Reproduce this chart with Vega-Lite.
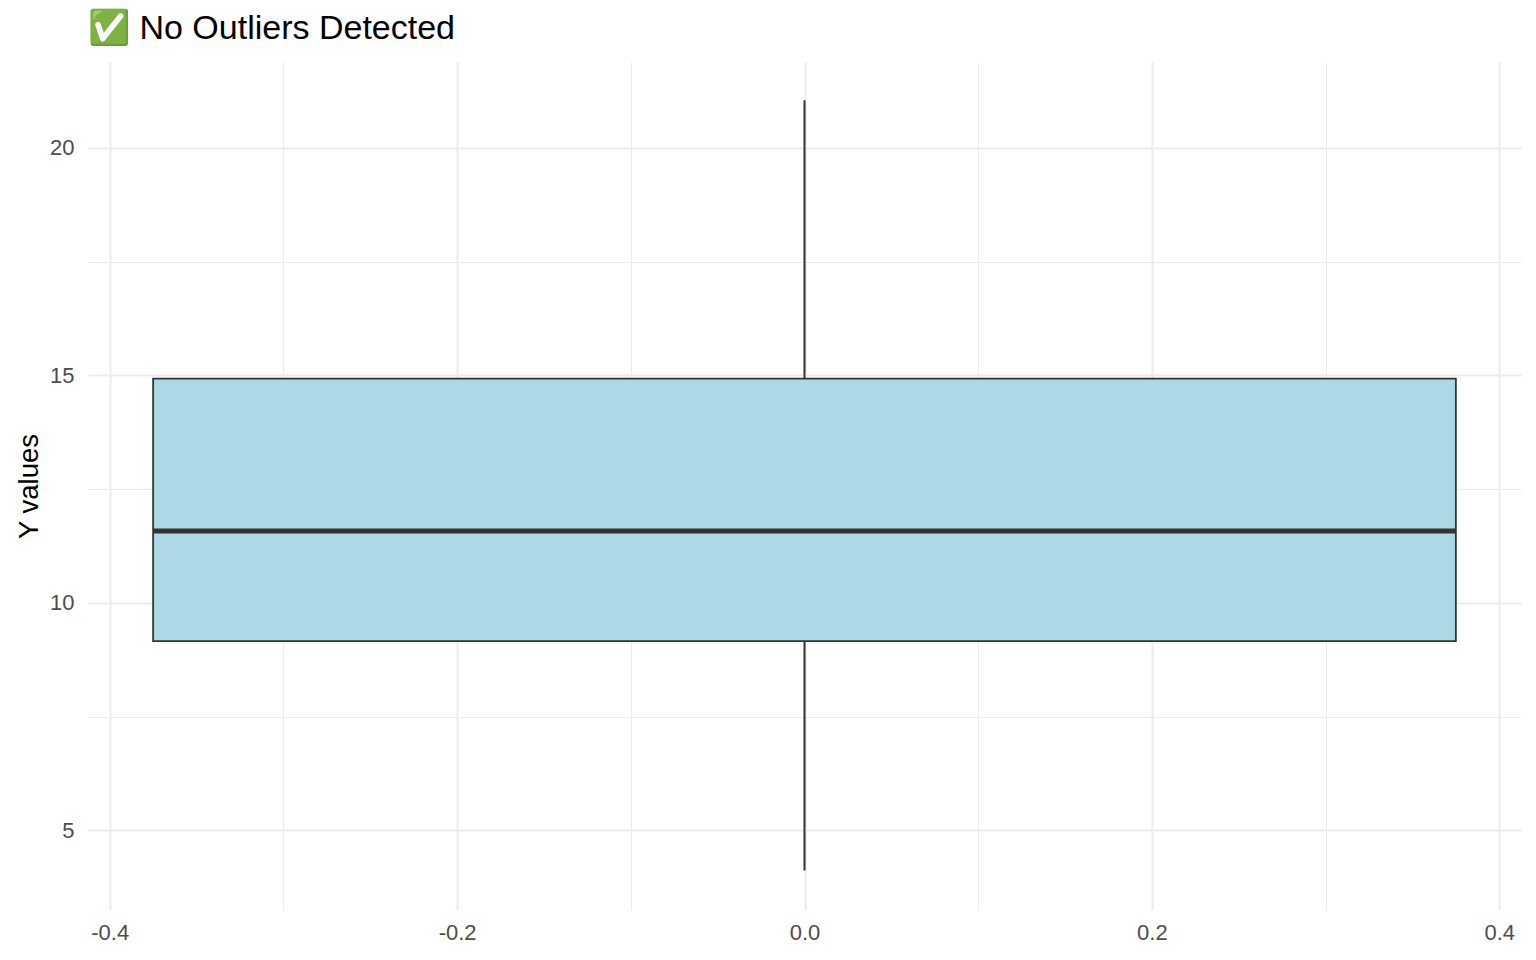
{
  "$schema": "https://vega.github.io/schema/vega-lite/v6.json",
  "width": 1433,
  "height": 848,
  "autosize": {"type": "none"},
  "padding": {"left": 88, "top": 62, "right": 15, "bottom": 50},
  "background": "white",
  "title": {
    "text": "✅ No Outliers Detected",
    "font": "Liberation Sans",
    "fontSize": 34,
    "fontWeight": "normal",
    "color": "#000000",
    "anchor": "start",
    "frame": "group",
    "baseline": "alphabetic",
    "offset": -11
  },
  "data": {
    "values": [
      {"x": 0, "xmin": -0.375, "xmax": 0.375, "lower": 4.12, "q1": 9.16, "median": 11.58, "q3": 14.93, "upper": 21.05}
    ]
  },
  "config": {
    "view": {"stroke": null},
    "axis": {
      "domain": false,
      "ticks": false,
      "labelFont": "Liberation Sans",
      "labelFontSize": 22,
      "labelColor": "#4d4d4d",
      "titleFont": "Liberation Sans",
      "titleFontSize": 27.5,
      "titleFontWeight": "normal",
      "titleColor": "#000000",
      "gridColor": "#ebebeb"
    }
  },
  "layer": [
    {
      "mark": {"type": "rule", "color": "#333333", "strokeWidth": 2},
      "encoding": {
        "x": {
          "field": "x",
          "type": "quantitative",
          "scale": {"domain": [-0.4125, 0.4125], "nice": false, "zero": false},
          "axis": {
            "title": null,
            "values": [-0.4, -0.3, -0.2, -0.1, 0, 0.1, 0.2, 0.3, 0.4],
            "labelExpr": "abs(round(datum.value*10)) % 2 == 0 ? (datum.value < 0 ? '-' : '') + format(abs(datum.value), '.1f') : ''",
            "labelPadding": 12,
            "gridWidth": {"condition": {"test": "abs(round(datum.value*10)) % 2 == 1", "value": 1}, "value": 2}
          }
        },
        "y": {
          "field": "lower",
          "type": "quantitative",
          "scale": {"domain": [3.25, 21.89], "nice": false, "zero": false},
          "axis": {
            "title": "Y values",
            "values": [5, 7.5, 10, 12.5, 15, 17.5, 20],
            "labelExpr": "datum.value % 5 == 0 ? format(datum.value, 'd') : ''",
            "labelPadding": 14,
            "titlePadding": 6,
            "gridWidth": {"condition": {"test": "datum.value % 5 != 0", "value": 1}, "value": 2}
          }
        },
        "y2": {"field": "upper"}
      }
    },
    {
      "mark": {"type": "bar", "fill": "#ADD8E6", "stroke": "#333333", "strokeWidth": 1.8},
      "encoding": {
        "x": {"field": "xmin", "type": "quantitative"},
        "x2": {"field": "xmax"},
        "y": {"field": "q1", "type": "quantitative"},
        "y2": {"field": "q3"}
      }
    },
    {
      "mark": {"type": "rule", "color": "#333333", "strokeWidth": 5},
      "encoding": {
        "x": {"field": "xmin", "type": "quantitative"},
        "x2": {"field": "xmax"},
        "y": {"field": "median", "type": "quantitative"}
      }
    }
  ]
}
